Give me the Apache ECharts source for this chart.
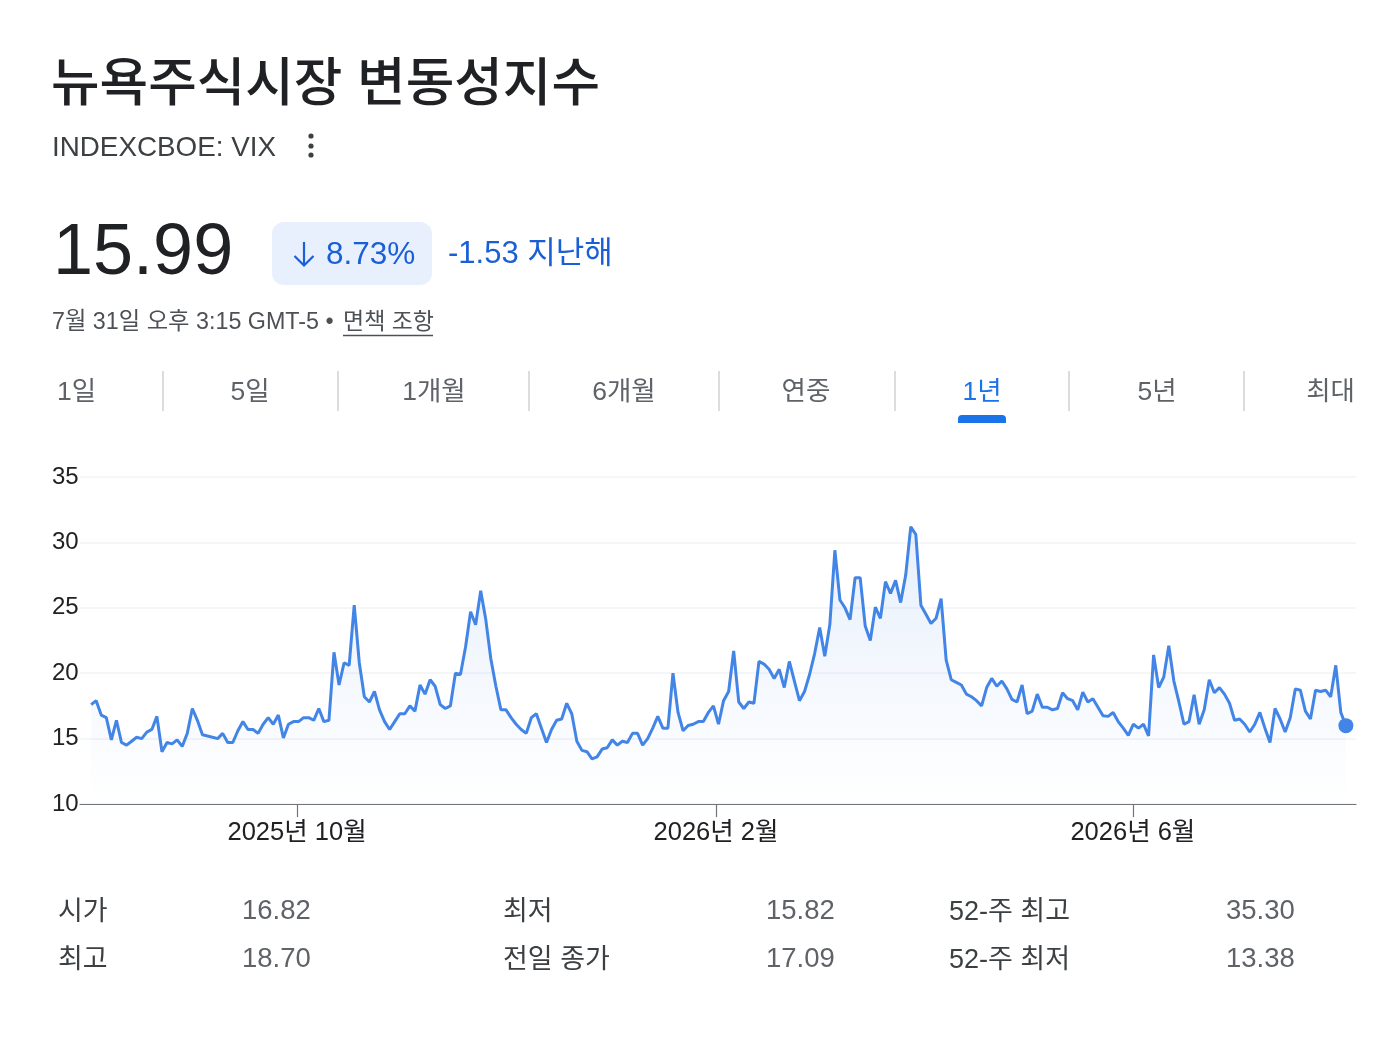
<!DOCTYPE html>
<html>
<head>
<meta charset="utf-8">
<script src="https://cdn.jsdelivr.net/npm/echarts@6/dist/echarts.min.js"></script>
<style>
html,body{margin:0;padding:0;background:#fff;}
#chart{width:1390px;height:1064px;}
</style>
</head>
<body>
<div id="chart"></div>
<script>
// ---- data ----
const vixValues = [
17.6,17.9,16.8,16.6,14.9,16.4,14.7,14.5,14.8,15.1,15.0,15.5,15.7,16.7,14.0,14.7,14.6,14.9,14.4,15.4,
17.3,16.4,15.3,15.2,15.1,15.0,15.4,14.7,14.7,15.6,16.3,15.7,15.7,15.4,16.1,16.6,16.1,16.8,15.05,16.1,
16.3,16.3,16.6,16.6,16.4,17.3,16.3,16.4,21.6,19.1,20.8,20.6,25.2,20.8,18.2,17.8,18.6,17.2,16.3,15.7,
16.3,16.9,16.9,17.5,17.1,19.1,18.4,19.5,19.0,17.6,17.3,17.5,20.0,19.9,22.0,24.7,23.7,26.3,24.1,21.1,
19.0,17.2,17.2,16.6,16.1,15.7,15.4,16.6,16.9,15.8,14.7,15.7,16.4,16.5,17.7,16.9,14.8,14.1,14.0,13.45,
13.6,14.2,14.3,14.9,14.5,14.8,14.7,15.4,15.4,14.5,15.0,15.8,16.7,15.8,15.8,20.0,17.0,15.6,16.0,16.1,
16.3,16.3,17.0,17.5,16.1,17.9,18.6,21.7,17.8,17.3,17.8,17.7,20.9,20.7,20.3,19.6,20.3,18.9,20.9,19.4,
17.9,18.6,19.9,21.5,23.5,21.3,23.7,29.4,25.6,25.0,24.1,27.3,27.3,23.6,22.5,25.05,24.2,27.0,26.1,27.1,
25.4,27.5,31.2,30.6,25.2,24.5,23.8,24.2,25.7,21.0,19.5,19.3,19.1,18.4,18.2,17.9,17.5,18.9,19.6,19.0,
19.4,18.8,18.0,17.8,19.1,16.9,17.1,18.4,17.4,17.4,17.2,17.3,18.5,18.05,17.9,17.2,18.55,17.8,18.05,17.4,
16.75,16.7,17.0,16.3,15.8,15.25,16.1,15.8,16.1,15.2,21.4,18.9,19.7,22.1,19.4,17.8,16.1,16.3,18.35,16.1,
17.2,19.5,18.5,18.9,18.4,17.7,16.4,16.5,16.1,15.5,16.1,17.0,15.8,14.7,17.3,16.5,15.5,16.6,18.8,18.7,
17.1,16.5,18.7,18.6,18.7,18.2,20.6,17.0,15.99
];
const xTickLabels = ['2025년 10월', '2026년 2월', '2026년 6월'];
const xTickIndex = [40.7, 123.5, 205.9];
const yTicks = [10, 15, 20, 25, 30, 35];

const titleText = '뉴욕주식시장 변동성지수';
const tickerText = 'INDEXCBOE: VIX';
const priceText = '15.99';
const changePctText = '8.73%';
const changeAbsText = '-1.53 지난해';
const dateText = '7월 31일 오후 3:15 GMT-5 •';
const disclaimerText = '면책 조항';
const tabLabels = ['1일', '5일', '1개월', '6개월', '연중', '1년', '5년', '최대'];
const activeTab = '1년';
const statLabels = [['시가', '최고'], ['최저', '전일 종가'], ['52-주 최고', '52-주 최저']];
const statValues = [['16.82', '18.70'], ['15.82', '17.09'], ['35.30', '13.38']];

// ---- layout ----
const FONT = "'Liberation Sans', 'Noto Sans CJK KR', Arial, sans-serif";
const BLUE = '#1a5fd6';
const chart = echarts.init(document.getElementById('chart'));

function txt(text, x, y, size, fill, align, weight) {
  return {
    type: 'text', x: x, y: y, silent: true,
    style: { text: text, fill: fill, fontSize: size, fontFamily: FONT,
      fontWeight: weight || 'normal', align: align || 'left', verticalAlign: 'middle' }
  };
}

const graphics = [];
graphics.push(txt(titleText, 51, 86, 52.8, '#202124', 'left', 500));
graphics.push(txt(tickerText, 52, 148, 27.8, '#3c4043'));
[136, 146, 155].forEach(function (cy) {
  graphics.push({ type: 'circle', silent: true, shape: { cx: 311, cy: cy, r: 2.6 }, style: { fill: '#3c4043' } });
});
graphics.push(txt(priceText, 53, 254, 72, '#202124'));
graphics.push({ type: 'rect', silent: true, shape: { x: 272, y: 222, width: 160, height: 63, r: 12 }, style: { fill: '#e8f0fe' } });
graphics.push({ type: 'line', silent: true, shape: { x1: 304, y1: 242, x2: 304, y2: 265 }, style: { stroke: BLUE, lineWidth: 2.2 } });
graphics.push({ type: 'polyline', silent: true, shape: { points: [[294.5, 256], [304, 265.5], [313.5, 256]] }, style: { stroke: BLUE, lineWidth: 2.2, fill: null } });
graphics.push(txt(changePctText, 326, 255, 31.5, BLUE));
graphics.push(txt(changeAbsText, 448, 254, 31, BLUE));
graphics.push(txt(dateText, 52, 323, 23.3, '#4d5156'));
graphics.push(txt(disclaimerText, 343, 323, 23, '#4d5156'));
graphics.push({ type: 'line', silent: true, shape: { x1: 343, y1: 335.5, x2: 433, y2: 335.5 }, style: { stroke: '#4d5156', lineWidth: 1.5 } });

// tabs
const tabCenters = [57, 250, 434, 624, 806, 982, 1157, 1355];
const tabAligns = ['left', 'center', 'center', 'center', 'center', 'center', 'center', 'right'];
tabLabels.forEach(function (t, i) {
  graphics.push(txt(t, tabCenters[i], 393, 26.5, t === activeTab ? '#1a73e8' : '#5f6368', tabAligns[i]));
});
[163, 338, 529, 719, 895, 1069, 1244].forEach(function (x) {
  graphics.push({ type: 'line', silent: true, shape: { x1: x, y1: 371, x2: x, y2: 411 }, style: { stroke: '#dadce0', lineWidth: 2 } });
});
graphics.push({ type: 'rect', silent: true, shape: { x: 958, y: 415, width: 48, height: 8, r: [4, 4, 0, 0] }, style: { fill: '#1a73e8' } });

// stats
const statLabelX = [58, 503, 949];
const statValueX = [242, 766, 1226];
const statRowY = [911, 959];
statLabels.forEach(function (col, c) {
  col.forEach(function (lab, r) {
    graphics.push(txt(lab, statLabelX[c], statRowY[r] + 2, 27, '#3c4043'));
    graphics.push(txt(statValues[c][r], statValueX[c], statRowY[r], 27.5, '#5f6368'));
  });
});

const lineData = vixValues.map(function (v, i) { return [i, v]; });
const lastIdx = vixValues.length - 1;

chart.setOption({
  animation: false,
  backgroundColor: '#ffffff',
  textStyle: { fontFamily: FONT },
  grid: { left: 80, right: 34, top: 477, bottom: 260, containLabel: false },
  xAxis: {
    type: 'value', min: -2.2, max: 250,
    axisLine: { show: true, lineStyle: { color: '#70757a', width: 1.2 } },
    axisTick: { show: true, length: 13, customValues: xTickIndex, lineStyle: { color: '#70757a', width: 1.2 } },
    axisLabel: {
      show: true, customValues: xTickIndex, margin: 16, fontSize: 25.5, color: '#202124', fontFamily: FONT,
      formatter: function (v) {
        let best = 0;
        xTickIndex.forEach(function (p, i) { if (Math.abs(p - v) < Math.abs(xTickIndex[best] - v)) best = i; });
        return xTickLabels[best];
      }
    },
    splitLine: { show: false }
  },
  yAxis: {
    type: 'value', min: yTicks[0], max: yTicks[yTicks.length - 1], interval: yTicks[1] - yTicks[0],
    axisLine: { show: false }, axisTick: { show: false },
    axisLabel: { align: 'left', margin: 28, fontSize: 24, color: '#202124', fontFamily: FONT },
    splitLine: { show: true, lineStyle: { color: '#f1f3f4', width: 1.5 } }
  },
  series: [
    {
      type: 'line', data: lineData, showSymbol: false, symbol: 'none', smooth: false,
      lineStyle: { color: '#4285e6', width: 3 },
      areaStyle: {
        color: new echarts.graphic.LinearGradient(0, 0, 0, 1, [
          { offset: 0, color: 'rgba(66,133,230,0.18)' },
          { offset: 1, color: 'rgba(66,133,230,0.0)' }
        ])
      },
      z: 3
    },
    {
      type: 'scatter', data: [[lastIdx, vixValues[lastIdx]]], symbol: 'circle', symbolSize: 15,
      itemStyle: { color: '#4285e6', opacity: 1 }, z: 5
    }
  ],
  graphic: graphics
});
</script>
</body>
</html>
